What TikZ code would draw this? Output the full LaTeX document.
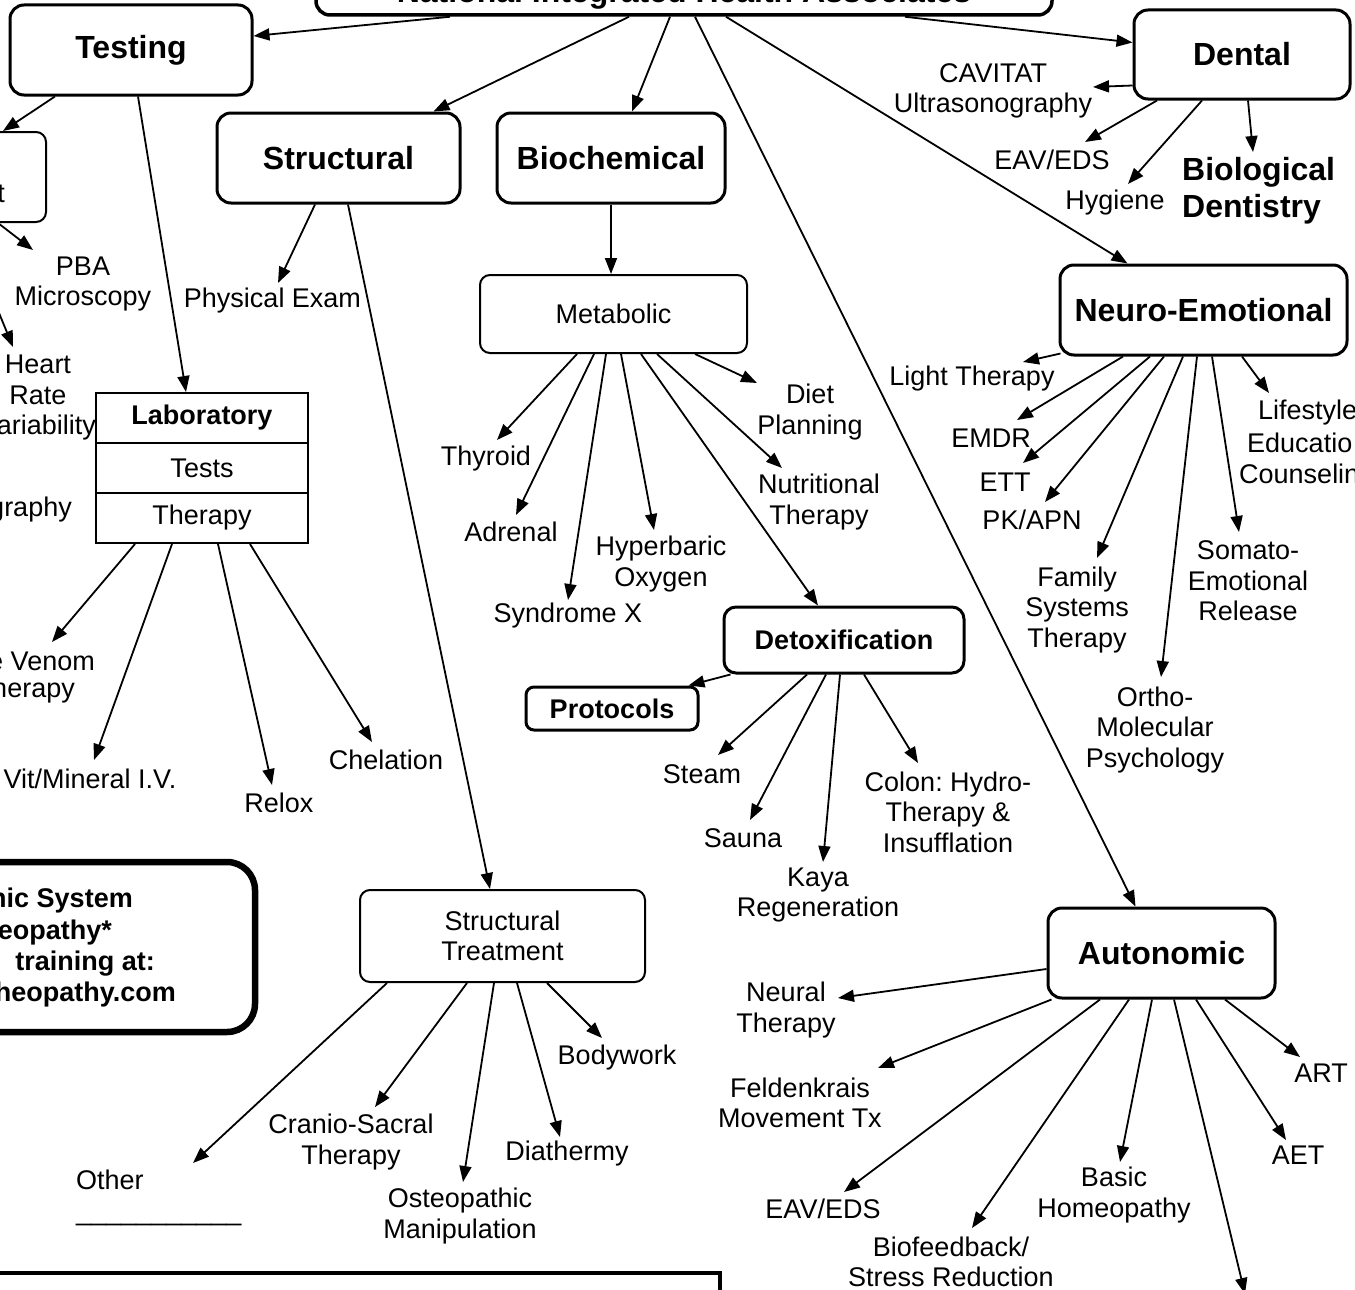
\documentclass[tikz,border=0pt]{standalone}
\usepackage{fontspec}
\setmainfont{Liberation Sans}
\usetikzlibrary{arrows.meta,calc}
\newcommand\myN{\fontsize{27}{30.5}\selectfont}
\newcommand\myH{\fontsize{32}{37}\selectfont\bfseries}
\newcommand\myB{\fontsize{27}{31.5}\selectfont\bfseries}
\frenchspacing
\begin{document}
\begin{tikzpicture}[x=1pt,y=-1pt,
  hbox/.style={draw, rounded corners=14pt, line width=3pt, font=\myH, inner sep=0pt, align=center},
  tbox/.style={draw, rounded corners=10pt, line width=2pt, font=\myN, inner sep=0pt, align=center},
  labrow/.style={draw, line width=2pt, minimum width=212pt, minimum height=50pt, inner sep=0pt, font=\myN},
  lbl/.style={inner sep=0pt, font=\myN, align=center},
  frag/.style={inner sep=0pt, font=\myN, anchor=east},
  bfrag/.style={inner sep=0pt, font=\myB, anchor=east},
  arr/.style={line width=1.8pt, -{Triangle[length=16pt,width=12pt]}}]
\useasboundingbox (0,0) rectangle (1355,1290);
\clip (0,0) rectangle (1355,1290);
\fill[white] (0,0) rectangle (1355,1290);

% ---------- boxes ----------
\node[hbox, minimum width=736pt, minimum height=60pt, line width=3.5pt] (nat) at (684,-15) {};
\node[font=\myH, anchor=base, inner sep=0pt] (natt) at (684,3) {National Integrated Health Associates};
\node[hbox, minimum width=242pt, minimum height=90pt] (test) at (131,50) {Testing};
\node[hbox, minimum width=243pt, minimum height=90pt] (struct) at (338.5,158) {Structural};
\node[hbox, minimum width=228pt, minimum height=90pt] (bio) at (611,158) {Biochemical};
\node[hbox, minimum width=216pt, minimum height=89pt] (dental) at (1242,54.5) {Dental};
\node[hbox, minimum width=287pt, minimum height=90pt] (neuro) at (1203.5,310) {Neuro-Emotional};
\node[hbox, minimum width=227pt, minimum height=90pt] (auto) at (1161.5,953) {Autonomic};
\node[hbox, font=\myB, minimum width=240pt, minimum height=66pt, rounded corners=12pt] (detox) at (844,640) {Detoxification};
\node[hbox, font=\myB, minimum width=172pt, minimum height=43pt, rounded corners=8pt] (prot) at (612,708.5) {Protocols};
\node[tbox, minimum width=267pt, minimum height=78pt] (met) at (613.5,314) {Metabolic};
\node[tbox, minimum width=285pt, minimum height=92pt] (sttr) at (502.5,936) {Structural\\Treatment};
\node[tbox, minimum width=96pt, minimum height=90pt] (lbox) at (-2,177) {};
\node[frag] (lboxt) at (5,194) {t};
\node[labrow, font=\myB] (lab1) at (202,418) {Laboratory};
\node[labrow] (lab2) at (202,468) {Tests};
\node[labrow] (lab3) at (202,518) {Therapy};
\node[draw, line width=6.5pt, rounded corners=28pt, minimum width=295pt, minimum height=170pt, inner sep=0pt] (asys) at (107.5,947) {};
\node[bfrag] (as1) at (133,901) {nic System};
\node[bfrag] (as2) at (112,933) {eopathy*};
\node[bfrag] (as3) at (155,964) {training at:};
\node[bfrag] (as4) at (176,995) {heopathy.com};
\node[draw, line width=4.5pt, minimum width=740pt, minimum height=67pt, inner sep=0pt] (bbox) at (350,1306.5) {};

% ---------- labels ----------
\node[lbl] (pba) at (83,284) {PBA\\Microscopy};
\node[lbl] (hrv) at (38,380) {Heart\\Rate};
\node[frag] (hrv2) at (96,428) {ariability};
\node[frag] (graphy) at (72,510) {graphy};
\node[frag] (venom) at (95,661) {e Venom};
\node[frag] (venom2) at (75,691) {herapy};
\node[lbl] (vit) at (90,779) {Vit/Mineral I.V.};
\node[lbl] (relox) at (279,803) {Relox};
\node[lbl] (chel) at (386,760) {Chelation};
\node[lbl] (phys) at (272.5,301) {Physical Exam};
\node[lbl] (thy) at (486,459) {Thyroid};
\node[lbl] (adr) at (511,532) {Adrenal};
\node[lbl] (synx) at (568,616) {Syndrome X};
\node[lbl] (hyp) at (661,564) {Hyperbaric\\Oxygen};
\node[lbl] (nut) at (819,502) {Nutritional\\Therapy};
\node[lbl] (diet) at (810,412) {Diet\\Planning};
\node[lbl] (steam) at (702,774) {Steam};
\node[lbl] (sauna) at (743,838) {Sauna};
\node[lbl] (kaya) at (818,895) {Kaya\\Regeneration};
\node[lbl] (colon) at (948,812) {Colon: Hydro-\\Therapy \&\\Insufflation};
\node[lbl, align=left, anchor=west] (other) at (76,1198) {Other\\\_\_\_\_\_\_\_\_\_\_\_};
\node[lbl] (cranio) at (351,1142) {Cranio-Sacral\\Therapy};
\node[lbl] (osteo) at (460,1216) {Osteopathic\\Manipulation};
\node[lbl] (diat) at (567,1154) {Diathermy};
\node[lbl] (body) at (617,1058) {Bodywork};
\node[lbl] (cav) at (993,91) {CAVITAT\\Ultrasonography};
\node[lbl] (eav1) at (1052,160) {EAV/EDS};
\node[lbl] (hyg) at (1115,203) {Hygiene};
\node[lbl, font=\myH, align=left, anchor=west] (biod) at (1182,191) {Biological\\Dentistry};
\node[lbl] (light) at (972,379) {Light Therapy};
\node[lbl] (emdr) at (991,438) {EMDR};
\node[lbl] (ett) at (1005,482) {ETT};
\node[lbl] (pk) at (1032,520) {PK/APN};
\node[lbl] (fam) at (1077,610) {Family\\Systems\\Therapy};
\node[lbl] (ortho) at (1155,730) {Ortho-\\Molecular\\Psychology};
\node[lbl] (somato) at (1248,581) {Somato-\\Emotional\\Release};
\node[lbl, anchor=west] (life1) at (1258,413) {Lifestyle};
\node[lbl, anchor=west] (life2) at (1247,443) {Educatio};
\node[lbl, anchor=west] (life3) at (1239,474) {Counselin};
\node[lbl] (neural) at (786,1010) {Neural\\Therapy};
\node[lbl] (feld) at (800,1103) {Feldenkrais\\Movement Tx};
\node[lbl] (eav2) at (823,1209) {EAV/EDS};
\node[lbl] (biof) at (951,1262) {Biofeedback/\\Stress Reduction};
\node[lbl] (basic) at (1114,1195) {Basic\\Homeopathy};
\node[lbl] (aet) at (1298,1155) {AET};
\node[lbl] (art) at (1321,1073) {ART};
\coordinate (offp) at (1245,1294);

% ---------- connectors ----------
\draw[arr] ($(nat.south)+(-234,0)$) -- ($(test.east)+(0,-14)$);
\draw[arr] ($(nat.south)+(-55,0)$) -- ($(struct.north)+(95,0)$);
\draw[arr] ($(nat.south)+(-14,0)$) -- ($(bio.north)+(21,0)$);
\draw[arr] ($(nat.south)+(11,0)$) -- ($(auto.north)+(-26,0)$);
\draw[arr] ($(nat.south)+(42,0)$) -- ($(neuro.north)+(-76,0)$);
\draw[arr] ($(nat.south)+(221,0)$) -- ($(dental.west)+(0,-12)$);

\draw[arr] ($(test.south)+(-76,0)$) -- ($(lbox.north)+(5,0)$);
\draw[arr] ($(test.south)+(7,0)$) -- ($(lab1.north)+(-16,0)$);
\draw[arr] (lbox.south) -- ($(pba)+(-50,-34)$);
\draw[arr] ($(lbox.south)+(-36,0)$) -- ($(hrv)+(-25,-33)$);

\draw[arr] ($(lab3.south)+(-67,0)$) -- ($(venom.east)+(-43,-19)$);
\draw[arr] ($(lab3.south)+(-30,0)$) -- ($(vit)+(4,-19)$);
\draw[arr] ($(lab3.south)+(16,0)$) -- ($(relox)+(-7,-18)$);
\draw[arr] ($(lab3.south)+(48,0)$) -- ($(chel)+(-14,-18)$);

\draw[arr] ($(struct.south)+(-23.5,0)$) -- ($(phys)+(5.5,-18)$);
\draw[arr] ($(struct.south)+(9.5,0)$) -- ($(sttr.north)+(-12.5,0)$);

\draw[arr] (bio.south) -- ($(met.north)+(-2.5,0)$);
\draw[arr] ($(met.south)+(-36.5,0)$) -- ($(thy)+(11,-19)$);
\draw[arr] ($(met.south)+(-19.5,0)$) -- ($(adr)+(5,-17)$);
\draw[arr] ($(met.south)+(-7.5,0)$) -- ($(synx)+(0,-16)$);
\draw[arr] ($(met.south)+(7.5,0)$) -- ($(hyp)+(-7,-34)$);
\draw[arr] ($(met.south)+(27.5,0)$) -- ($(detox.north)+(-26,0)$);
\draw[arr] ($(met.south)+(43.5,0)$) -- ($(nut)+(-37,-34)$);
\draw[arr] ($(met.south)+(81.5,0)$) -- ($(diet)+(-53,-29)$);

\draw[arr] ($(detox.south west)+(8,0)$) -- ($(prot.north east)+(-11,0)$);
\draw[arr] ($(detox.south)+(-37,0)$) -- ($(steam)+(16,-19)$);
\draw[arr] ($(detox.south)+(-18,0)$) -- ($(sauna)+(7,-18)$);
\draw[arr] ($(detox.south)+(-4,0)$) -- ($(kaya)+(5,-33)$);
\draw[arr] ($(detox.south)+(20,0)$) -- ($(colon)+(-30,-49)$);

\draw[arr] ($(sttr.south)+(-115.5,0)$) -- ($(other.west)+(117,-35)$);
\draw[arr] ($(sttr.south)+(-35.5,0)$) -- ($(cranio)+(24,-35)$);
\draw[arr] ($(sttr.south)+(-8.5,0)$) -- ($(osteo)+(3,-34)$);
\draw[arr] ($(sttr.south)+(14.5,0)$) -- ($(diat)+(-7,-17)$);
\draw[arr] ($(sttr.south)+(44.5,0)$) -- ($(body)+(-15,-20)$);

\draw[arr] ($(dental.west)+(0,31)$) -- ($(cav)+(100,-4)$);
\draw[arr] ($(dental.south)+(-85,0)$) -- ($(eav1)+(33,-18)$);
\draw[arr] ($(dental.south)+(-40,0)$) -- ($(hyg)+(13,-19)$);
\draw[arr] ($(dental.south)+(6,0)$) -- ($(biod.west)+(71,-39)$);

\draw[arr] ($(neuro.south west)+(2,-3)$) -- ($(light)+(51,-17)$);
\draw[arr] ($(neuro.south)+(-80.5,0)$) -- ($(emdr)+(26,-18)$);
\draw[arr] ($(neuro.south)+(-53.5,0)$) -- ($(ett)+(18,-19)$);
\draw[arr] ($(neuro.south)+(-39.5,0)$) -- ($(pk)+(13,-18)$);
\draw[arr] ($(neuro.south)+(-20.5,0)$) -- ($(fam)+(20,-52)$);
\draw[arr] ($(neuro.south)+(-6.5,0)$) -- ($(ortho)+(6,-53)$);
\draw[arr] ($(neuro.south)+(8.5,0)$) -- ($(somato)+(-9,-49)$);
\draw[arr] ($(neuro.south)+(38.5,0)$) -- ($(life1.west)+(11,-20)$);

\draw[arr] ($(auto.west)+(0,16)$) -- ($(neural)+(52,-12)$);
\draw[arr] ($(auto.south west)+(5,0)$) -- ($(feld)+(78,-35)$);
\draw[arr] ($(auto.south)+(-61.5,0)$) -- ($(eav2)+(21,-17)$);
\draw[arr] ($(auto.south)+(-32.5,0)$) -- ($(biof)+(21,-34)$);
\draw[arr] ($(auto.south)+(-9.5,0)$) -- ($(basic)+(6,-33)$);
\draw[arr] ($(auto.south)+(12.5,0)$) -- (offp);
\draw[arr] ($(auto.south)+(34.5,0)$) -- ($(aet)+(-12,-15)$);
\draw[arr] ($(auto.south)+(63.5,0)$) -- ($(art)+(-21,-16)$);
\end{tikzpicture}
\end{document}
